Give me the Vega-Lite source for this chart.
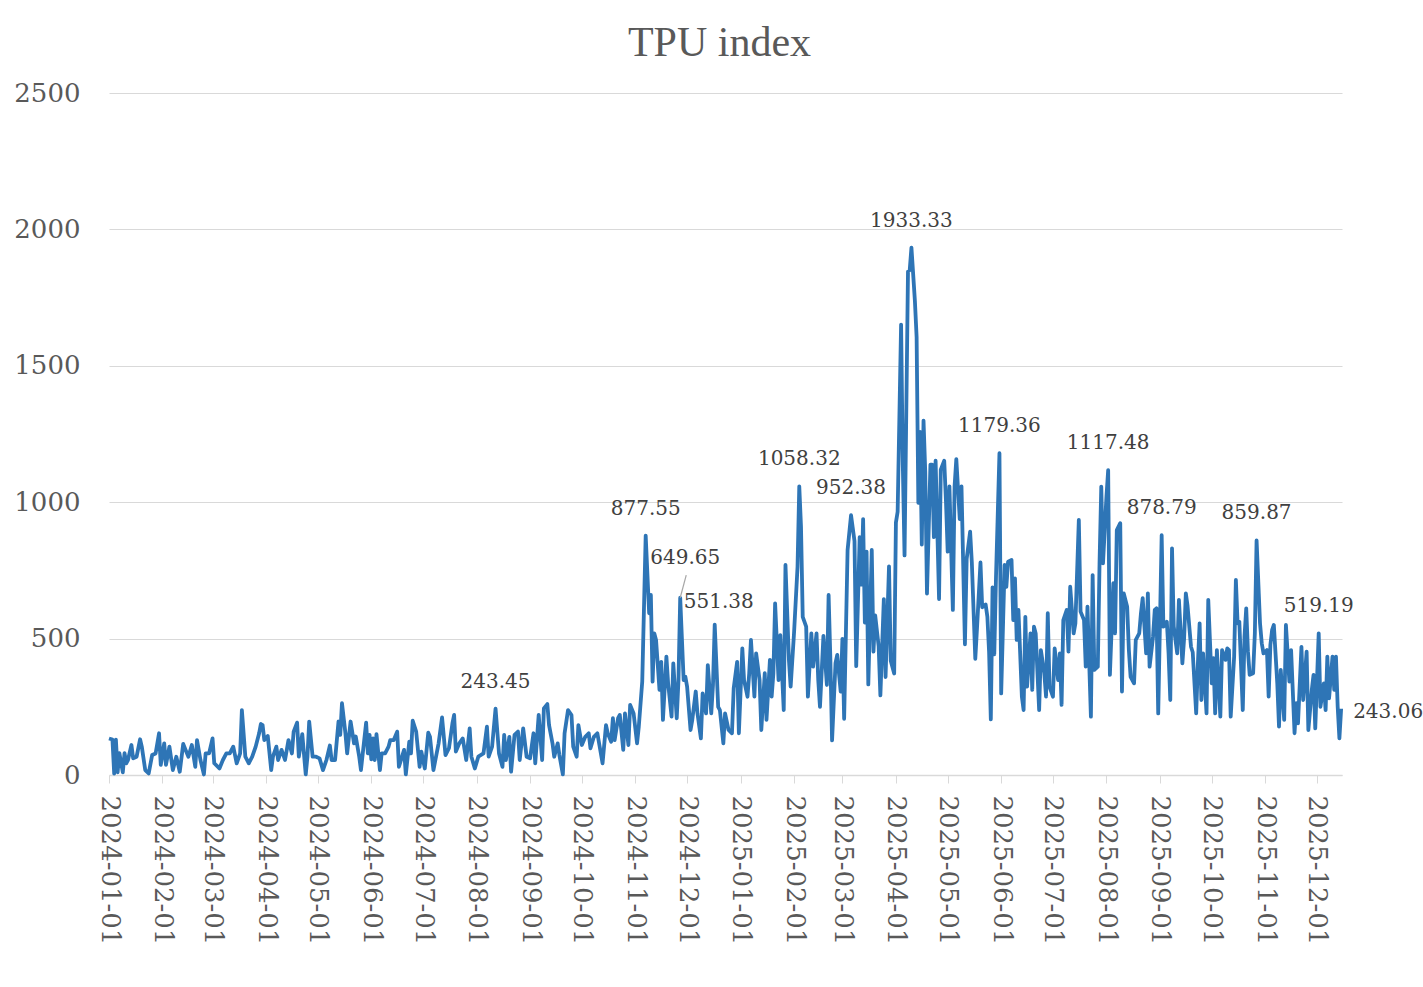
{
"$schema":"https://vega.github.io/schema/vega-lite/v6.json",
"width":1233,"height":682,
"autosize":"none",
"padding":{"left":109,"top":93,"right":81,"bottom":212},
"background":"white",
"title":{"text":"TPU index","font":"Liberation Serif","fontSize":42,"fontWeight":"normal","color":"#595959","anchor":"middle","offset":15,"dx":-6},
"config":{"view":{"stroke":null},"font":"DejaVu Serif"},
"datasets":{"tpu":[
{"date":"2024-01-01","value":134},{"date":"2024-01-03","value":130},{"date":"2024-01-04","value":5},{"date":"2024-01-05","value":130},{"date":"2024-01-06","value":10},{"date":"2024-01-07","value":80},{"date":"2024-01-09","value":10},{"date":"2024-01-10","value":80},{"date":"2024-01-11","value":43},{"date":"2024-01-12","value":55},{"date":"2024-01-14","value":110},{"date":"2024-01-15","value":61},{"date":"2024-01-17","value":67},{"date":"2024-01-19","value":131},{"date":"2024-01-20","value":104},{"date":"2024-01-22","value":18},{"date":"2024-01-24","value":6},{"date":"2024-01-26","value":73},{"date":"2024-01-28","value":79},{"date":"2024-01-30","value":153},{"date":"2024-01-31","value":37},
{"date":"2024-02-02","value":116},{"date":"2024-02-03","value":37},{"date":"2024-02-05","value":104},{"date":"2024-02-07","value":18},{"date":"2024-02-09","value":67},{"date":"2024-02-11","value":12},{"date":"2024-02-13","value":114},{"date":"2024-02-15","value":82},{"date":"2024-02-16","value":67},{"date":"2024-02-18","value":110},{"date":"2024-02-20","value":30},{"date":"2024-02-21","value":128},{"date":"2024-02-23","value":55},{"date":"2024-02-25","value":2},{"date":"2024-02-26","value":79},{"date":"2024-02-28","value":79},
{"date":"2024-03-01","value":134},{"date":"2024-03-02","value":43},{"date":"2024-03-05","value":24},{"date":"2024-03-07","value":55},{"date":"2024-03-09","value":79},{"date":"2024-03-11","value":79},{"date":"2024-03-13","value":104},{"date":"2024-03-15","value":43},{"date":"2024-03-17","value":79},{"date":"2024-03-18","value":238},{"date":"2024-03-20","value":67},{"date":"2024-03-22","value":43},{"date":"2024-03-24","value":67},{"date":"2024-03-26","value":104},{"date":"2024-03-28","value":153},{"date":"2024-03-29","value":187},{"date":"2024-03-30","value":183},{"date":"2024-03-31","value":128},
{"date":"2024-04-02","value":143},{"date":"2024-04-04","value":18},{"date":"2024-04-05","value":67},{"date":"2024-04-07","value":104},{"date":"2024-04-08","value":55},{"date":"2024-04-10","value":92},{"date":"2024-04-12","value":55},{"date":"2024-04-14","value":128},{"date":"2024-04-16","value":79},{"date":"2024-04-17","value":159},{"date":"2024-04-19","value":192},{"date":"2024-04-20","value":67},{"date":"2024-04-22","value":150},{"date":"2024-04-24","value":2},{"date":"2024-04-25","value":67},{"date":"2024-04-26","value":196},{"date":"2024-04-28","value":67},{"date":"2024-04-30","value":67},
{"date":"2024-05-02","value":61},{"date":"2024-05-04","value":18},{"date":"2024-05-06","value":55},{"date":"2024-05-08","value":108},{"date":"2024-05-09","value":55},{"date":"2024-05-11","value":55},{"date":"2024-05-13","value":196},{"date":"2024-05-14","value":147},{"date":"2024-05-15","value":263},{"date":"2024-05-17","value":153},{"date":"2024-05-18","value":79},{"date":"2024-05-20","value":196},{"date":"2024-05-22","value":116},{"date":"2024-05-23","value":141},{"date":"2024-05-25","value":67},{"date":"2024-05-26","value":18},{"date":"2024-05-29","value":192},{"date":"2024-05-30","value":79},{"date":"2024-05-31","value":147},
{"date":"2024-06-01","value":57},{"date":"2024-06-02","value":134},{"date":"2024-06-03","value":55},{"date":"2024-06-04","value":150},{"date":"2024-06-06","value":18},{"date":"2024-06-07","value":79},{"date":"2024-06-09","value":79},{"date":"2024-06-11","value":104},{"date":"2024-06-12","value":128},{"date":"2024-06-14","value":128},{"date":"2024-06-16","value":159},{"date":"2024-06-17","value":30},{"date":"2024-06-20","value":92},{"date":"2024-06-21","value":2},{"date":"2024-06-23","value":122},{"date":"2024-06-24","value":79},{"date":"2024-06-25","value":199},{"date":"2024-06-27","value":159},{"date":"2024-06-29","value":30},{"date":"2024-06-30","value":86},
{"date":"2024-07-02","value":24},{"date":"2024-07-04","value":155},{"date":"2024-07-05","value":140},{"date":"2024-07-07","value":18},{"date":"2024-07-10","value":116},{"date":"2024-07-12","value":211},{"date":"2024-07-14","value":73},{"date":"2024-07-16","value":98},{"date":"2024-07-18","value":189},{"date":"2024-07-19","value":220},{"date":"2024-07-20","value":86},{"date":"2024-07-22","value":116},{"date":"2024-07-24","value":134},{"date":"2024-07-26","value":55},{"date":"2024-07-28","value":171},{"date":"2024-07-29","value":67},{"date":"2024-07-31","value":24},
{"date":"2024-08-02","value":67},{"date":"2024-08-05","value":79},{"date":"2024-08-07","value":177},{"date":"2024-08-08","value":67},{"date":"2024-08-10","value":104},{"date":"2024-08-12","value":243.45},{"date":"2024-08-14","value":79},{"date":"2024-08-16","value":30},{"date":"2024-08-17","value":147},{"date":"2024-08-18","value":55},{"date":"2024-08-20","value":140},{"date":"2024-08-21","value":12},{"date":"2024-08-23","value":147},{"date":"2024-08-25","value":159},{"date":"2024-08-26","value":55},{"date":"2024-08-28","value":171},{"date":"2024-08-30","value":67},
{"date":"2024-09-01","value":61},{"date":"2024-09-03","value":153},{"date":"2024-09-04","value":43},{"date":"2024-09-06","value":220},{"date":"2024-09-08","value":55},{"date":"2024-09-09","value":244},{"date":"2024-09-11","value":260},{"date":"2024-09-12","value":183},{"date":"2024-09-14","value":116},{"date":"2024-09-15","value":67},{"date":"2024-09-17","value":116},{"date":"2024-09-18","value":73},{"date":"2024-09-20","value":2},{"date":"2024-09-21","value":153},{"date":"2024-09-23","value":238},{"date":"2024-09-25","value":220},{"date":"2024-09-26","value":104},{"date":"2024-09-28","value":67},{"date":"2024-09-29","value":183},
{"date":"2024-10-01","value":110},{"date":"2024-10-03","value":140},{"date":"2024-10-05","value":153},{"date":"2024-10-06","value":98},{"date":"2024-10-08","value":140},{"date":"2024-10-10","value":153},{"date":"2024-10-13","value":43},{"date":"2024-10-15","value":183},{"date":"2024-10-16","value":153},{"date":"2024-10-18","value":122},{"date":"2024-10-19","value":208},{"date":"2024-10-20","value":128},{"date":"2024-10-22","value":208},{"date":"2024-10-23","value":220},{"date":"2024-10-25","value":92},{"date":"2024-10-26","value":226},{"date":"2024-10-28","value":110},{"date":"2024-10-29","value":257},{"date":"2024-10-31","value":226},
{"date":"2024-11-02","value":116},{"date":"2024-11-03","value":177},{"date":"2024-11-05","value":342},{"date":"2024-11-07","value":877.55},{"date":"2024-11-09","value":593},{"date":"2024-11-10","value":660},{"date":"2024-11-11","value":342},{"date":"2024-11-12","value":519},{"date":"2024-11-13","value":495},{"date":"2024-11-15","value":312},{"date":"2024-11-16","value":415},{"date":"2024-11-17","value":202},{"date":"2024-11-19","value":434},{"date":"2024-11-20","value":336},{"date":"2024-11-22","value":214},{"date":"2024-11-23","value":409},{"date":"2024-11-25","value":208},{"date":"2024-11-26","value":348},{"date":"2024-11-27","value":649.65},{"date":"2024-11-29","value":348},{"date":"2024-11-30","value":360},
{"date":"2024-12-01","value":324},{"date":"2024-12-03","value":165},{"date":"2024-12-04","value":202},{"date":"2024-12-06","value":306},{"date":"2024-12-07","value":226},{"date":"2024-12-09","value":134},{"date":"2024-12-10","value":299},{"date":"2024-12-12","value":226},{"date":"2024-12-13","value":403},{"date":"2024-12-15","value":226},{"date":"2024-12-16","value":330},{"date":"2024-12-17","value":551.38},{"date":"2024-12-19","value":250},{"date":"2024-12-20","value":238},{"date":"2024-12-22","value":116},{"date":"2024-12-23","value":226},{"date":"2024-12-25","value":165},{"date":"2024-12-27","value":153},{"date":"2024-12-28","value":318},{"date":"2024-12-30","value":415},{"date":"2024-12-31","value":153},
{"date":"2025-01-02","value":464},{"date":"2025-01-03","value":348},{"date":"2025-01-05","value":287},{"date":"2025-01-06","value":373},{"date":"2025-01-07","value":495},{"date":"2025-01-09","value":287},{"date":"2025-01-10","value":446},{"date":"2025-01-12","value":348},{"date":"2025-01-13","value":165},{"date":"2025-01-15","value":373},{"date":"2025-01-16","value":202},{"date":"2025-01-18","value":422},{"date":"2025-01-19","value":287},{"date":"2025-01-20","value":373},{"date":"2025-01-21","value":629},{"date":"2025-01-23","value":348},{"date":"2025-01-24","value":513},{"date":"2025-01-26","value":238},{"date":"2025-01-27","value":770},{"date":"2025-01-29","value":422},{"date":"2025-01-30","value":324},
{"date":"2025-02-01","value":525},{"date":"2025-02-03","value":764},{"date":"2025-02-04","value":1058.32},{"date":"2025-02-05","value":910},{"date":"2025-02-06","value":580},{"date":"2025-02-08","value":544},{"date":"2025-02-09","value":287},{"date":"2025-02-11","value":519},{"date":"2025-02-12","value":397},{"date":"2025-02-14","value":519},{"date":"2025-02-15","value":348},{"date":"2025-02-16","value":250},{"date":"2025-02-18","value":510},{"date":"2025-02-20","value":330},{"date":"2025-02-21","value":660},{"date":"2025-02-22","value":430},{"date":"2025-02-23","value":127},{"date":"2025-02-25","value":410},{"date":"2025-02-26","value":440},{"date":"2025-02-28","value":306},
{"date":"2025-03-01","value":499},{"date":"2025-03-02","value":206},{"date":"2025-03-04","value":825},{"date":"2025-03-06","value":952.38},{"date":"2025-03-08","value":858},{"date":"2025-03-09","value":399},{"date":"2025-03-11","value":872},{"date":"2025-03-12","value":698},{"date":"2025-03-13","value":938},{"date":"2025-03-14","value":559},{"date":"2025-03-15","value":819},{"date":"2025-03-16","value":332},{"date":"2025-03-18","value":825},{"date":"2025-03-19","value":452},{"date":"2025-03-20","value":585},{"date":"2025-03-22","value":472},{"date":"2025-03-23","value":292},{"date":"2025-03-25","value":645},{"date":"2025-03-26","value":359},{"date":"2025-03-28","value":765},{"date":"2025-03-29","value":419},{"date":"2025-03-31","value":372},
{"date":"2025-04-01","value":925},{"date":"2025-04-02","value":965},{"date":"2025-04-04","value":1651},{"date":"2025-04-05","value":1138},{"date":"2025-04-06","value":805},{"date":"2025-04-08","value":1845},{"date":"2025-04-09","value":1851},{"date":"2025-04-10","value":1933.33},{"date":"2025-04-12","value":1738},{"date":"2025-04-13","value":1605},{"date":"2025-04-14","value":998},{"date":"2025-04-15","value":1258},{"date":"2025-04-16","value":845},{"date":"2025-04-17","value":1299},{"date":"2025-04-18","value":1112},{"date":"2025-04-19","value":665},{"date":"2025-04-21","value":1138},{"date":"2025-04-22","value":1138},{"date":"2025-04-23","value":872},{"date":"2025-04-24","value":1152},{"date":"2025-04-26","value":645},{"date":"2025-04-27","value":1119},{"date":"2025-04-29","value":1152},{"date":"2025-04-30","value":1005},
{"date":"2025-05-01","value":819},{"date":"2025-05-02","value":1058},{"date":"2025-05-04","value":605},{"date":"2025-05-05","value":1058},{"date":"2025-05-06","value":1158},{"date":"2025-05-08","value":938},{"date":"2025-05-09","value":1058},{"date":"2025-05-11","value":479},{"date":"2025-05-12","value":792},{"date":"2025-05-14","value":892},{"date":"2025-05-15","value":779},{"date":"2025-05-17","value":426},{"date":"2025-05-18","value":539},{"date":"2025-05-20","value":779},{"date":"2025-05-21","value":615},{"date":"2025-05-23","value":625},{"date":"2025-05-24","value":580},{"date":"2025-05-25","value":450},{"date":"2025-05-26","value":204},{"date":"2025-05-27","value":688},{"date":"2025-05-28","value":442},{"date":"2025-05-29","value":725},{"date":"2025-05-31","value":1179.36},
{"date":"2025-06-01","value":299},{"date":"2025-06-03","value":770},{"date":"2025-06-04","value":690},{"date":"2025-06-05","value":782},{"date":"2025-06-07","value":788},{"date":"2025-06-08","value":568},{"date":"2025-06-09","value":721},{"date":"2025-06-10","value":495},{"date":"2025-06-11","value":605},{"date":"2025-06-13","value":287},{"date":"2025-06-14","value":238},{"date":"2025-06-15","value":580},{"date":"2025-06-16","value":324},{"date":"2025-06-18","value":519},{"date":"2025-06-19","value":312},{"date":"2025-06-20","value":544},{"date":"2025-06-21","value":519},{"date":"2025-06-23","value":238},{"date":"2025-06-24","value":458},{"date":"2025-06-26","value":373},{"date":"2025-06-27","value":287},{"date":"2025-06-28","value":593},{"date":"2025-06-29","value":324},
{"date":"2025-07-01","value":287},{"date":"2025-07-02","value":464},{"date":"2025-07-04","value":348},{"date":"2025-07-05","value":446},{"date":"2025-07-06","value":257},{"date":"2025-07-07","value":568},{"date":"2025-07-09","value":605},{"date":"2025-07-10","value":452},{"date":"2025-07-11","value":690},{"date":"2025-07-13","value":519},{"date":"2025-07-14","value":556},{"date":"2025-07-16","value":935},{"date":"2025-07-17","value":599},{"date":"2025-07-19","value":568},{"date":"2025-07-20","value":397},{"date":"2025-07-21","value":617},{"date":"2025-07-23","value":214},{"date":"2025-07-24","value":733},{"date":"2025-07-25","value":385},{"date":"2025-07-27","value":397},{"date":"2025-07-28","value":776},{"date":"2025-07-29","value":1057},{"date":"2025-07-30","value":776},
{"date":"2025-08-01","value":1020},{"date":"2025-08-02","value":1117.48},{"date":"2025-08-03","value":367},{"date":"2025-08-05","value":703},{"date":"2025-08-06","value":519},{"date":"2025-08-07","value":898},{"date":"2025-08-09","value":923},{"date":"2025-08-10","value":306},{"date":"2025-08-11","value":666},{"date":"2025-08-13","value":617},{"date":"2025-08-14","value":458},{"date":"2025-08-15","value":360},{"date":"2025-08-17","value":336},{"date":"2025-08-18","value":495},{"date":"2025-08-20","value":519},{"date":"2025-08-21","value":593},{"date":"2025-08-22","value":648},{"date":"2025-08-24","value":446},{"date":"2025-08-25","value":666},{"date":"2025-08-26","value":397},{"date":"2025-08-28","value":507},{"date":"2025-08-29","value":605},{"date":"2025-08-30","value":611},{"date":"2025-08-31","value":226},
{"date":"2025-09-02","value":878.79},{"date":"2025-09-03","value":544},{"date":"2025-09-05","value":562},{"date":"2025-09-06","value":446},{"date":"2025-09-07","value":275},{"date":"2025-09-08","value":831},{"date":"2025-09-09","value":544},{"date":"2025-09-11","value":446},{"date":"2025-09-12","value":642},{"date":"2025-09-14","value":409},{"date":"2025-09-15","value":500},{"date":"2025-09-16","value":666},{"date":"2025-09-17","value":620},{"date":"2025-09-19","value":470},{"date":"2025-09-20","value":450},{"date":"2025-09-22","value":226},{"date":"2025-09-23","value":409},{"date":"2025-09-24","value":556},{"date":"2025-09-25","value":275},{"date":"2025-09-26","value":446},{"date":"2025-09-28","value":226},{"date":"2025-09-29","value":642},
{"date":"2025-10-01","value":336},{"date":"2025-10-02","value":428},{"date":"2025-10-03","value":226},{"date":"2025-10-04","value":458},{"date":"2025-10-06","value":214},{"date":"2025-10-07","value":458},{"date":"2025-10-09","value":422},{"date":"2025-10-10","value":464},{"date":"2025-10-11","value":458},{"date":"2025-10-12","value":214},{"date":"2025-10-14","value":434},{"date":"2025-10-15","value":715},{"date":"2025-10-16","value":556},{"date":"2025-10-17","value":562},{"date":"2025-10-19","value":238},{"date":"2025-10-20","value":507},{"date":"2025-10-21","value":611},{"date":"2025-10-22","value":452},{"date":"2025-10-23","value":367},{"date":"2025-10-25","value":373},{"date":"2025-10-26","value":519},{"date":"2025-10-27","value":859.87},{"date":"2025-10-29","value":556},{"date":"2025-10-30","value":483},{"date":"2025-10-31","value":446},
{"date":"2025-11-02","value":458},{"date":"2025-11-03","value":287},{"date":"2025-11-04","value":477},{"date":"2025-11-05","value":532},{"date":"2025-11-06","value":550},{"date":"2025-11-08","value":336},{"date":"2025-11-09","value":177},{"date":"2025-11-10","value":385},{"date":"2025-11-12","value":202},{"date":"2025-11-13","value":550},{"date":"2025-11-15","value":342},{"date":"2025-11-16","value":458},{"date":"2025-11-18","value":153},{"date":"2025-11-19","value":263},{"date":"2025-11-20","value":189},{"date":"2025-11-22","value":470},{"date":"2025-11-23","value":275},{"date":"2025-11-25","value":452},{"date":"2025-11-26","value":165},{"date":"2025-11-28","value":312},{"date":"2025-11-29","value":367},{"date":"2025-11-30","value":171},
{"date":"2025-12-02","value":519.19},{"date":"2025-12-03","value":250},{"date":"2025-12-05","value":336},{"date":"2025-12-06","value":238},{"date":"2025-12-07","value":434},{"date":"2025-12-08","value":281},{"date":"2025-12-10","value":434},{"date":"2025-12-11","value":312},{"date":"2025-12-12","value":434},{"date":"2025-12-13","value":250},{"date":"2025-12-14","value":134},{"date":"2025-12-15","value":243.06}
]},
"data":{"name":"tpu"},
"encoding":{
 "x":{"field":"date","type":"temporal","scale":{"type":"utc","domain":[{"year":2024,"month":1,"date":1,"utc":true},{"year":2025,"month":12,"date":15,"hours":12,"utc":true}]},
  "axis":{"title":null,"format":"%Y-%m-%d","tickCount":{"interval":"month","step":1},"labelAngle":90,"labelFont":"DejaVu Serif","labelFontSize":26,"labelColor":"#595959","labelPadding":12,"tickSize":8,"tickColor":"#d9d9d9","domainColor":"#d9d9d9","domainWidth":1.5,"grid":false,"labelOverlap":false,"labelFlush":false,"labelBound":false}},
 "y":{"field":"value","type":"quantitative","scale":{"domain":[0,2500],"nice":false,"zero":true},
  "axis":{"title":null,"values":[0,500,1000,1500,2000,2500],"format":"d","labelFont":"DejaVu Serif","labelFontSize":26,"labelColor":"#595959","domain":false,"ticks":false,"labelPadding":29,"gridColor":"#d9d9d9","gridWidth":1.2}}
},
"layer":[
 {"mark":{"type":"line","color":"#2e75b6","strokeWidth":3.8,"strokeJoin":"round"}},
 {"transform":[{"filter":"datum.value == 649.65"}],
  "mark":{"type":"rule","color":"#a6a6a6","strokeWidth":1.2},
  "encoding":{"x2":{"datum":{"year":2024,"month":11,"date":30,"hours":12,"utc":true}},"y2":{"datum":733}}},
 {"transform":[{"filter":"datum.value % 1 != 0 && datum.value != 649.65 && datum.value != 551.38 && datum.value != 243.06"}],
  "mark":{"type":"text","font":"DejaVu Serif","fontSize":20,"color":"#404040","dy":-27,"baseline":"middle","align":"center"},
  "encoding":{"text":{"field":"value","type":"quantitative","format":".2f"}}},
 {"transform":[{"filter":"datum.value == 649.65"}],
  "mark":{"type":"text","font":"DejaVu Serif","fontSize":20,"color":"#404040","dx":5,"dy":-40,"baseline":"middle","align":"center"},
  "encoding":{"text":{"field":"value","type":"quantitative","format":".2f"}}},
 {"transform":[{"filter":"datum.value == 551.38"}],
  "mark":{"type":"text","font":"DejaVu Serif","fontSize":20,"color":"#404040","dx":4,"dy":-23,"baseline":"middle","align":"center"},
  "encoding":{"text":{"field":"value","type":"quantitative","format":".2f"}}},
 {"transform":[{"filter":"datum.value == 243.06"}],
  "mark":{"type":"text","font":"DejaVu Serif","fontSize":20,"color":"#404040","dx":12,"dy":3,"baseline":"middle","align":"left"},
  "encoding":{"text":{"field":"value","type":"quantitative","format":".2f"}}}
]
}
